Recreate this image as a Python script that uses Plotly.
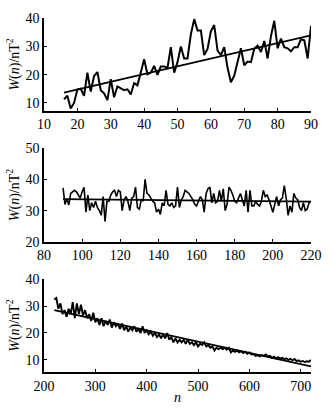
import plotly.graph_objects as go

# ---------------- data ----------------
top_n = list(range(16, 91))
top_w = [11.3, 12.5, 8.0, 10.0, 14.7, 15.0, 12.5, 20.7, 14.0, 19.5,
         20.9, 14.5, 13.4, 11.0, 18.4, 12.0, 15.8, 15.0, 14.5, 14.8,
         13.0, 17.0, 16.2, 20.7, 25.4, 20.1, 20.7, 23.1, 19.9, 22.9,
         22.9, 22.4, 29.7, 20.7, 24.4, 29.9, 25.7, 25.7, 34.2, 39.6,
         35.6, 35.6, 26.9, 29.1, 35.3, 37.5, 28.5, 26.9, 29.7, 22.4,
         17.3, 19.6, 24.0, 29.3, 23.3, 24.6, 24.4, 29.1, 30.2, 28.0,
         31.9, 25.7, 33.6, 39.0, 29.3, 32.7, 29.7, 29.3, 28.2, 29.7,
         29.7, 32.5, 32.1, 25.7, 37.2]
top_fit_n = [16, 90]
top_fit_w = [13.6, 33.9]

mid_n = list(range(90, 221))
mid_w = [37.3, 32.0, 33.8, 31.8, 35.5, 36.0, 36.5, 36.0, 35.0, 34.0,
         36.0, 37.5, 29.5, 35.0, 30.0, 32.5, 31.0, 33.0, 31.0, 30.0,
         28.5, 34.5, 26.5, 33.0, 33.0, 35.0, 36.0, 36.5, 34.5, 36.5,
         36.0, 30.0, 33.5, 34.5, 33.0, 30.0, 34.0, 34.5, 37.5, 31.0,
         30.5, 33.5, 33.0, 40.0, 35.5, 35.0, 34.0, 33.0, 32.5, 29.5,
         30.5, 28.8, 32.5, 31.5, 36.5, 32.0, 31.5, 32.5, 31.0, 31.5,
         37.5, 31.0, 33.5, 34.5, 36.5, 36.0, 35.5, 34.5, 33.5, 32.0,
         31.5, 33.0, 34.5, 33.5, 29.5, 35.5, 37.0, 37.5, 32.5, 35.5,
         32.5, 33.0, 36.5, 33.0, 37.0, 30.0, 32.0, 37.5, 36.5, 35.0,
         33.0, 32.5, 34.0, 35.5, 33.5, 31.5, 36.5, 29.5, 36.5, 31.5,
         31.5, 33.0, 32.0, 31.5, 33.0, 36.5, 34.5, 35.0, 33.5, 31.0,
         29.5, 32.0, 34.5, 31.5, 33.5, 34.0, 38.0, 34.0, 28.5, 31.5,
         29.5, 35.5, 34.0, 33.5, 31.0, 30.0, 32.5, 30.0, 30.5, 32.5,
         33.0]
mid_fit_n = [90, 220]
mid_fit_w = [33.7, 32.9]

bot_w = [32.5, 33.0, 29.0, 31.0, 27.0, 28.5, 26.0, 29.0, 27.0, 31.5,
         25.5, 31.0, 27.0, 30.5, 26.5, 28.5, 25.5, 27.0, 24.5, 27.5,
         24.0, 25.5, 23.0, 25.5, 22.5, 24.5, 23.0, 25.0, 22.0, 24.0,
         22.5, 23.5, 21.5, 23.5, 21.0, 22.5, 20.5, 22.0, 21.0, 22.5,
         20.5, 21.5, 20.0, 22.5, 20.0, 21.0, 19.5, 20.5, 19.0, 20.0,
         18.5, 19.5, 18.0, 19.5, 18.0, 20.0, 17.5, 18.5, 16.5, 18.0,
         16.5, 17.5, 16.5, 17.5, 16.0, 17.5, 16.0, 16.5, 15.5, 16.5,
         15.0, 16.0, 15.5, 16.5, 15.0, 15.5, 14.5, 15.0, 13.5, 14.5,
         14.0, 14.5, 14.0, 14.5, 13.8, 14.5, 12.8, 13.5, 13.0, 13.5,
         12.8, 13.2, 12.5, 13.0, 12.3, 12.8, 12.0, 12.2, 11.5, 11.8,
         11.3, 11.8, 11.5, 12.0, 11.3, 11.5, 10.8, 11.2, 10.5, 11.0,
         10.5, 10.8, 10.2, 10.6, 10.0, 10.4, 9.8, 10.3, 9.5, 9.8,
         9.3, 9.6, 9.2, 9.5, 9.3, 10.0]
bot_n = [220 + 4 * i for i in range(len(bot_w))]
bot_fit_n = [220, 720]
bot_fit_w = [28.5, 7.6]

x_ticks = [[10, 20, 30, 40, 50, 60, 70, 80, 90],
           [80, 100, 120, 140, 160, 180, 200, 220],
           [200, 300, 400, 500, 600, 700]]
y_ticks = [[10, 20, 30, 40], [20, 30, 40, 50], [10, 20, 30, 40]]

# ---------------- figure ----------------
FONT = "Liberation Serif"
fig = go.Figure()
series = [(top_n, top_w, top_fit_n, top_fit_w),
          (mid_n, mid_w, mid_fit_n, mid_fit_w),
          (bot_n, bot_w, bot_fit_n, bot_fit_w)]
widths = [2, 1.6, 1.9]
for i, (n, w, fn, fw) in enumerate(series):
    xa = "x" if i == 0 else f"x{i+1}"
    ya = "y" if i == 0 else f"y{i+1}"
    fig.add_trace(go.Scatter(x=n, y=w, mode="lines", xaxis=xa, yaxis=ya,
                             line=dict(color="black", width=widths[i]),
                             showlegend=False))
    fig.add_trace(go.Scatter(x=fn, y=fw, mode="lines", xaxis=xa, yaxis=ya,
                             line=dict(color="black", width=1.8),
                             showlegend=False))

common = dict(showline=True, linecolor="black", linewidth=1.5, ticks="inside",
              ticklen=3, tickwidth=1.2, tickcolor="black", showgrid=False,
              zeroline=False, tickfont=dict(family=FONT, size=14, color="black"))

x_ranges = [[10, 90], [80, 220], [200, 720]]
y_ranges = [[7.2, 40], [20, 50], [5.5, 40]]
y_domains = [[0.7378, 1.0], [0.3676, 0.6324], [0.0, 0.2622]]
ytitle = "<i>W</i>(<i>n</i>)/nT<sup>2</sup>"

layout = dict(width=333, height=414, margin=dict(l=44, r=15, t=11, b=33),
              paper_bgcolor="white", plot_bgcolor="white")
for i in range(3):
    xk = "xaxis" if i == 0 else f"xaxis{i+1}"
    yk = "yaxis" if i == 0 else f"yaxis{i+1}"
    ya = "y" if i == 0 else f"y{i+1}"
    xa = "x" if i == 0 else f"x{i+1}"
    xd = dict(common, range=x_ranges[i], tickvals=x_ticks[i], anchor=ya,
              domain=[0, 1])
    if i == 2:
        xd["title"] = dict(text="<i>n</i>", font=dict(family=FONT, size=14, color="black"),
                           standoff=0)
    layout[xk] = xd
    layout[yk] = dict(common, range=y_ranges[i], tickvals=y_ticks[i], anchor=xa,
                      domain=y_domains[i],
                      title=dict(text=ytitle, font=dict(family=FONT, size=14, color="black"),
                                 standoff=3))
fig.update_layout(**layout)
fig.write_html("out.html")
